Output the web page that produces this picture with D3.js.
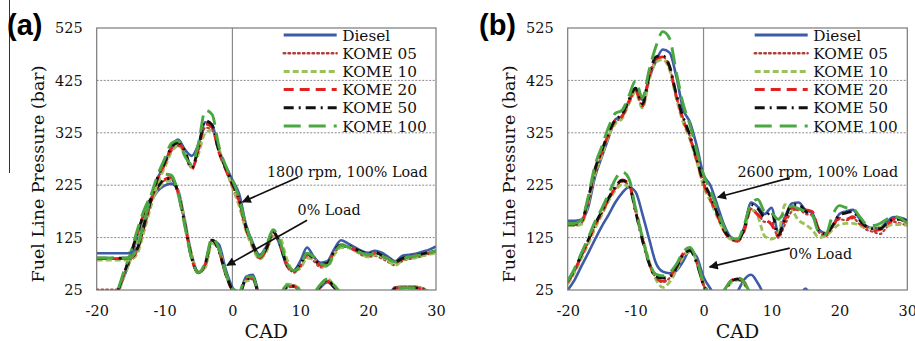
<!DOCTYPE html>
<html>
<head>
<meta charset="utf-8">
<script src="https://cdn.jsdelivr.net/npm/d3@7"></script>
<style>
  body { margin: 0; background: #fff; }
  svg text { font-family: "DejaVu Serif", serif; fill: #111; }
</style>
</head>
<body>
<div id="chart"></div>
<script>
// crank angle samples, -20 .. 30 CAD
var cad = d3.range(-20, 31);
var yTicks = [25, 125, 225, 325, 425, 525];
var xTicks = [-20, -10, 0, 10, 20, 30];
var gridTicks = [125, 225, 325, 425];

var seriesNames = ["Diesel", "KOME 05", "KOME 10", "KOME 20", "KOME 50", "KOME 100"];

// (a) 1800 rpm, 100% load
var a100Diesel = [95,95,95,95,95,96,105,146,195,238,265,298,312,293,281,303,345,340,292,262,235,208,150,115,92,108,138,110,72,62,80,106,88,77,80,103,120,114,107,100,96,100,96,88,80,90,92,94,98,102,108];
var a100K05 = [85,85,85,85,85,86,100,145,192,235,262,290,300,285,258,290,335,330,290,255,222,190,140,110,85,100,130,118,78,58,68,88,80,68,72,95,108,106,100,92,88,90,85,78,72,80,84,86,90,94,98];
var a100K10 = [82,82,82,82,82,83,95,138,185,230,258,288,300,288,260,285,325,330,295,258,220,185,138,105,84,98,128,125,85,62,66,86,84,70,70,92,106,106,100,94,88,92,88,80,72,82,85,87,90,93,96];
var a100K20 = [85,85,85,85,85,86,102,148,195,238,265,295,305,288,255,295,342,335,288,255,225,195,142,110,86,103,135,112,72,60,72,93,84,72,75,98,110,108,102,96,92,95,90,84,78,84,88,90,93,96,100];
var a100K50 = [86,86,86,86,86,87,104,150,197,240,268,297,306,290,258,298,348,340,290,258,228,198,145,112,88,104,136,113,74,62,74,95,85,74,76,99,111,109,104,98,94,97,91,85,79,85,89,91,94,97,100];
var a100K100 = [86,86,86,86,86,87,108,155,205,245,275,305,310,280,265,305,368,360,300,262,235,200,148,112,88,110,140,118,78,62,72,95,88,75,72,95,110,108,102,96,92,95,90,84,78,84,88,90,93,96,100];

// (a) 1800 rpm, 0% load
var a0Diesel = [10,10,12,20,50,84,126,166,194,214,224,228,215,155,92,58,70,120,112,65,30,15,50,54,15,5,5,10,32,33,22,10,15,30,40,30,15,10,10,10,10,10,10,15,30,31,31,31,28,20,15];
var a0K05 = [26,26,26,26,55,90,132,170,198,220,234,236,208,148,84,57,74,118,100,55,25,18,44,46,12,5,5,12,34,34,24,12,18,34,44,32,18,10,10,10,10,10,10,16,30,31,31,31,29,22,16];
var a0K10 = [15,15,15,18,50,85,128,168,196,216,230,234,214,158,92,60,68,114,104,58,26,20,42,44,12,5,5,14,36,35,26,14,20,36,46,34,20,10,10,10,10,10,10,14,28,30,30,30,28,22,16];
var a0K20 = [15,15,15,22,56,92,134,172,200,222,236,240,210,150,85,57,75,120,100,55,25,18,46,48,12,5,5,10,30,32,22,10,16,32,42,30,16,10,10,10,10,10,10,14,28,29,29,29,26,20,15];
var a0K50 = [15,15,15,22,56,92,134,172,200,222,236,238,210,150,86,58,76,120,100,56,26,18,46,48,12,5,5,10,30,32,22,10,16,34,44,30,16,10,10,10,10,10,10,14,28,29,29,29,26,20,15];
var a0K100 = [15,15,15,24,60,96,140,178,206,230,246,244,208,146,84,58,78,124,104,58,28,22,50,50,12,5,5,12,34,34,24,12,18,36,46,34,18,10,10,10,10,10,10,14,28,29,29,29,26,20,15];

// (b) 2600 rpm, 100% load
var b100Diesel = [157,157,159,182,240,278,315,350,357,385,410,388,430,462,484,478,432,370,345,300,245,225,188,150,126,120,145,192,184,170,182,136,165,190,192,178,172,140,133,146,170,175,178,160,147,143,144,155,164,163,158];
var b100K05 = [148,148,152,195,250,285,320,345,355,382,405,375,430,465,470,450,395,352,318,275,230,200,170,140,124,120,140,180,170,155,155,125,150,175,180,170,168,135,128,145,160,158,162,150,140,136,132,145,155,152,148];
var b100K10 = [148,148,150,190,245,280,318,342,352,380,402,372,425,460,465,445,390,345,312,270,222,195,165,138,122,120,140,178,165,128,122,132,188,178,158,150,140,125,128,140,150,152,152,148,144,143,145,147,150,150,148];
var b100K20 = [150,150,154,196,252,288,322,348,356,384,406,376,432,466,470,450,394,350,316,272,228,198,168,138,122,118,138,182,168,160,150,128,160,182,178,178,175,140,132,148,162,160,165,152,145,138,140,150,160,158,155];
var b100K50 = [152,152,156,198,255,290,325,350,360,388,410,380,435,470,472,452,398,355,320,275,232,205,172,140,124,120,142,188,180,165,175,130,160,188,188,175,168,138,132,148,168,172,175,158,146,142,142,152,160,160,156];
var b100K100 = [152,152,158,202,262,298,335,362,368,395,424,392,445,490,518,505,440,380,340,290,245,215,180,145,125,122,150,190,198,175,172,160,175,185,180,175,168,135,132,168,186,182,180,165,150,148,152,160,165,162,152];

// (b) 2600 rpm, 0% load
var b0Diesel = [25,44,70,95,121,146,168,192,210,221,212,170,122,76,60,57,62,80,100,88,50,28,10,5,5,22,45,54,38,15,5,5,5,5,10,28,10,5,5,5,5,5,5,5,5,5,5,5,5,5,5];
var b0K05 = [38,60,88,115,145,170,196,218,232,225,178,125,78,48,40,48,68,92,102,78,35,15,5,22,40,46,38,15,5,5,5,5,5,5,5,5,5,5,5,5,5,5,5,5,5,5,5,5,5,5,5];
var b0K10 = [36,58,85,112,142,168,194,215,226,222,180,128,80,45,30,40,62,88,98,80,38,15,5,20,38,44,36,14,5,5,5,5,5,5,5,5,5,5,5,5,5,5,5,5,5,5,5,5,5,5,5];
var b0K20 = [40,62,90,118,148,172,198,220,235,228,176,122,76,48,42,50,70,95,104,78,34,14,5,22,42,48,40,16,5,5,5,5,5,5,5,5,5,5,5,5,5,5,5,5,5,5,5,5,5,5,5];
var b0K50 = [42,64,92,120,150,175,200,222,234,226,174,120,75,50,48,50,68,92,100,76,35,14,5,22,40,46,38,15,5,5,5,5,5,5,5,5,5,5,5,5,5,5,5,5,5,5,5,5,5,5,5];
var b0K100 = [42,66,95,124,155,180,208,236,251,238,180,124,78,55,52,58,74,98,106,82,38,16,6,24,42,48,40,16,5,5,5,5,5,5,5,5,5,5,5,5,5,5,5,5,5,5,5,5,5,5,5];

// line styles per series
var seriesColors = ["#3d5ba6", "#b0403c", "#9cc05a", "#e3211f", "#111111", "#4aa741"];
var seriesDash = [null, "1.6,3.2", "6,3", "10,6", "10,5,2,5", "17,8"];
var seriesWidth = [2.6, 2.2, 2.8, 2.8, 2.8, 2.9];

var width = 915, height = 341;
var plotTop = 28, plotBottom = 290;

var svg = d3.select("#chart").append("svg")
    .attr("width", width)
    .attr("height", height);

var defs = svg.append("defs");
defs.append("marker")
    .attr("id", "arrow")
    .attr("viewBox", "0 0 10 10")
    .attr("refX", 9).attr("refY", 5)
    .attr("markerWidth", 10).attr("markerHeight", 9)
    .attr("markerUnits", "userSpaceOnUse")
    .attr("orient", "auto")
    .append("path")
    .attr("d", "M0,0 L10,5 L0,10 Z")
    .attr("fill", "#111");

// stray rule at the far left of the figure
svg.append("line")
    .attr("x1", 9.5).attr("x2", 9.5)
    .attr("y1", 0).attr("y2", 173)
    .attr("stroke", "#333").attr("stroke-width", 1);

function drawPanel(p) {
    var x = d3.scaleLinear().domain([-20, 30]).range([p.left, p.right]);
    var y = d3.scaleLinear().domain([25, 525]).range([plotBottom, plotTop]);

    var g = svg.append("g");

    defs.append("clipPath").attr("id", "clip-" + p.id)
        .append("rect")
        .attr("x", p.left).attr("y", plotTop)
        .attr("width", p.right - p.left).attr("height", plotBottom - plotTop);

    // dotted grid
    g.selectAll(".grid")
        .data(gridTicks)
        .enter().append("line")
        .attr("x1", p.left).attr("x2", p.right)
        .attr("y1", d => y(d)).attr("y2", d => y(d))
        .attr("stroke", "#8a8a8a")
        .attr("stroke-width", 1)
        .attr("stroke-dasharray", "2,1.5");

    // zero crank angle line
    g.append("line")
        .attr("x1", x(0)).attr("x2", x(0))
        .attr("y1", plotTop).attr("y2", plotBottom)
        .attr("stroke", "#8a8a8a").attr("stroke-width", 1.2);

    // y axis
    var yAxis = d3.axisLeft(y).tickValues(yTicks).tickSize(0).tickPadding(14);
    var ya = g.append("g").attr("transform", "translate(" + p.left + ",0)").call(yAxis);
    ya.select(".domain").remove();
    ya.selectAll("text").style("font-size", "14.5px").style("font-family", "DejaVu Serif").style("fill", "#111");

    // x axis (plain hyphen for negatives, as in the figure)
    var xAxis = d3.axisBottom(x).tickValues(xTicks).tickSize(0).tickPadding(16)
        .tickFormat(d => String(d));
    var xa = g.append("g").attr("transform", "translate(0," + plotBottom + ")").call(xAxis);
    xa.select(".domain").remove();
    xa.selectAll("text").style("font-size", "14.5px").style("font-family", "DejaVu Serif").style("fill", "#111");

    var line = d3.line()
        .x(d => x(d[0]))
        .y(d => y(d[1]))
        .curve(d3.curveMonotoneX);

    var curves = g.append("g").attr("clip-path", "url(#clip-" + p.id + ")");
    [p.zero, p.full].forEach(function(group) {
        group.forEach(function(vals, i) {
            curves.append("path")
                .datum(cad.map((c, k) => [c, vals[k]]))
                .attr("fill", "none")
                .attr("stroke", seriesColors[i])
                .attr("stroke-width", seriesWidth[i])
                .attr("stroke-dasharray", seriesDash[i])
                .attr("stroke-linecap", i == 1 ? "round" : "butt")
                .attr("d", line);
        });
    });

    // frame
    g.append("rect")
        .attr("x", p.left).attr("y", plotTop)
        .attr("width", p.right - p.left).attr("height", plotBottom - plotTop)
        .attr("fill", "none")
        .attr("stroke", "#7a7a7a").attr("stroke-width", 1.2);

    // legend
    var legend = g.append("g").attr("transform", "translate(" + p.left + ",0)");
    seriesNames.forEach(function(name, i) {
        var ly = 35 + i * 18.2;
        legend.append("line")
            .attr("x1", 187).attr("x2", 240)
            .attr("y1", ly).attr("y2", ly)
            .attr("stroke", seriesColors[i])
            .attr("stroke-width", seriesWidth[i] + 0.2)
            .attr("stroke-dasharray", seriesDash[i])
            .attr("stroke-linecap", i == 1 ? "round" : "butt");
        legend.append("text")
            .attr("x", 245.5).attr("y", ly + 5.5)
            .style("font-size", "15.3px")
            .text(name);
    });

    // axis titles
    g.append("text")
        .attr("transform", "translate(" + (p.left - 53) + ",174) rotate(-90)")
        .attr("text-anchor", "middle")
        .style("font-size", "17.5px")
        .text("Fuel Line Pressure (bar)");

    g.append("text")
        .attr("x", (p.left + p.right) / 2).attr("y", 338)
        .attr("text-anchor", "middle")
        .style("font-size", "19px")
        .text("CAD");

    // panel letter
    svg.append("text")
        .attr("x", p.letterX).attr("y", 35)
        .style("font-family", "Liberation Sans, Arial, sans-serif")
        .style("font-weight", "bold")
        .style("font-size", "29px")
        .style("fill", "#000")
        .text(p.letter);

    // annotations
    p.notes.forEach(function(n) {
        g.append("text")
            .attr("x", x(n.tx)).attr("y", y(n.ty))
            .style("font-size", "14.3px")
            .text(n.text);
        g.append("line")
            .attr("x1", x(n.from[0])).attr("y1", y(n.from[1]))
            .attr("x2", x(n.to[0])).attr("y2", y(n.to[1]))
            .attr("stroke", "#111").attr("stroke-width", 1.7)
            .attr("marker-end", "url(#arrow)");
    });
}

drawPanel({
    id: "a", letter: "(a)", letterX: 7,
    left: 96.7, right: 436,
    full: [a100Diesel, a100K05, a100K10, a100K20, a100K50, a100K100],
    zero: [a0Diesel, a0K05, a0K10, a0K20, a0K50, a0K100],
    notes: [
        { text: "1800 rpm, 100% Load", tx: 5.1, ty: 240, from: [9.7, 240], to: [1.5, 193] },
        { text: "0% Load", tx: 9.6, ty: 168, from: [11, 158], to: [-0.8, 72] }
    ]
});

drawPanel({
    id: "b", letter: "(b)", letterX: 479,
    left: 567.7, right: 907.3,
    full: [b100Diesel, b100K05, b100K10, b100K20, b100K50, b100K100],
    zero: [b0Diesel, b0K05, b0K10, b0K20, b0K50, b0K100],
    notes: [
        { text: "2600 rpm, 100% Load", tx: 5.0, ty: 240, from: [12.7, 239], to: [2.1, 202] },
        { text: "0% Load", tx: 12.6, ty: 84, from: [12.7, 105], to: [0.9, 69] }
    ]
});
</script>
</body>
</html>
